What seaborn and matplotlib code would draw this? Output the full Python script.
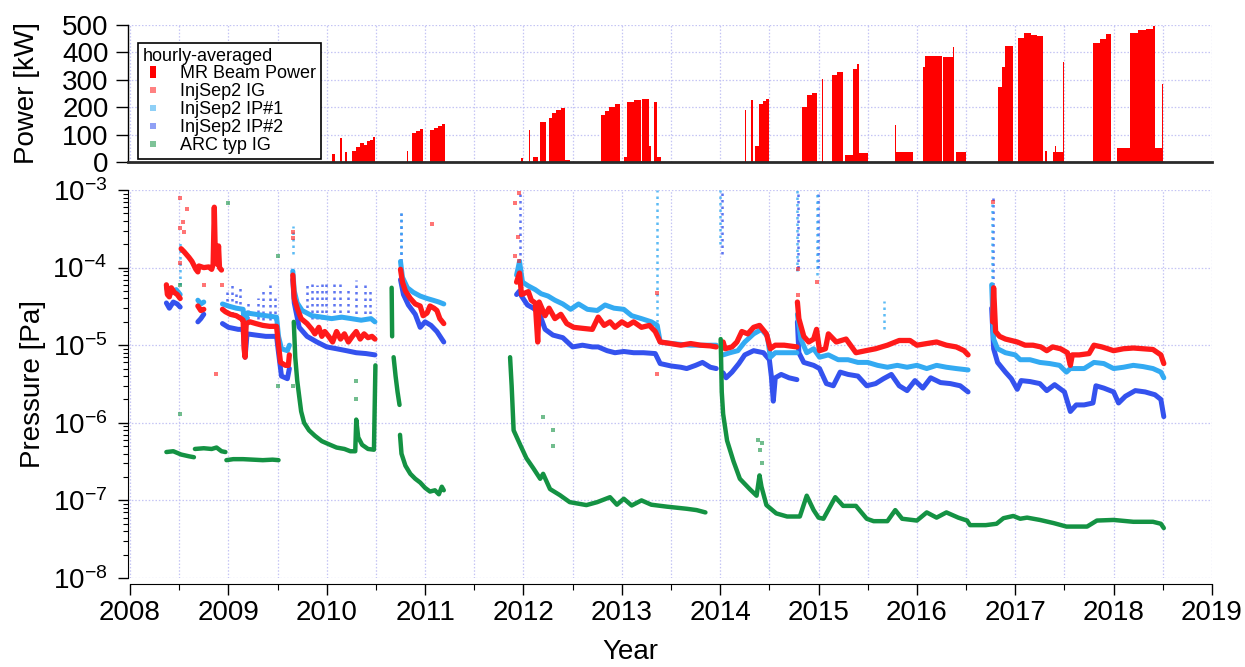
import numpy as np
import pandas as pd
import matplotlib
matplotlib.use("Agg")
import matplotlib.pyplot as plt
import seaborn as sns
from matplotlib.lines import Line2D
from matplotlib.ticker import MultipleLocator, FixedLocator, NullFormatter, LogLocator

# ---------------------------------------------------------------- data
POWER_YEAR = [2010.05, 2010.08, 2010.14, 2010.155, 2010.19, 2010.21, 2010.26, 2010.30, 2010.34, 2010.38,
              2010.41, 2010.44, 2010.47, 2010.49,
              2010.82, 2010.83, 2010.87, 2010.91, 2010.95, 2010.98, 2011.05, 2011.09, 2011.13, 2011.17, 2011.20,
              2011.98, 2012.00, 2012.06, 2012.07, 2012.10, 2012.15, 2012.17, 2012.23, 2012.26, 2012.29,
              2012.33, 2012.38, 2012.42, 2012.47,
              2012.79, 2012.83, 2012.87, 2012.93, 2012.985, 2013.02, 2013.05, 2013.12, 2013.20, 2013.21,
              2013.28, 2013.30, 2013.33, 2013.36, 2013.40,
              2014.25, 2014.26, 2014.31, 2014.33, 2014.35, 2014.39, 2014.44, 2014.47, 2014.50,
              2014.83, 2014.88, 2014.93, 2014.98, 2015.04, 2015.05, 2015.14, 2015.19, 2015.25, 2015.27,
              2015.35, 2015.39, 2015.41, 2015.50, 2015.505,
              2015.78, 2015.79, 2015.96, 2016.06, 2016.08, 2016.25, 2016.27, 2016.37, 2016.38, 2016.40, 2016.50,
              2016.82, 2016.86, 2016.90, 2016.98, 2017.03, 2017.09, 2017.16, 2017.22, 2017.28, 2017.30,
              2017.32, 2017.38, 2017.40, 2017.41, 2017.49, 2017.50,
              2017.79, 2017.86, 2017.92, 2017.97, 2018.03, 2018.17, 2018.25, 2018.33, 2018.40, 2018.42,
              2018.49, 2018.50]
POWER_KW = [30, 0, 86, 0, 35, 0, 40, 55, 70, 62,
            75, 80, 92, 0,
            40, 0, 105, 112, 120, 0, 117, 125, 130, 140, 0,
            15, 0, 117, 0, 20, 0, 147, 0, 160, 178,
            190, 197, 8, 0,
            170, 185, 200, 212, 0, 20, 219, 228, 5, 229,
            60, 0, 219, 20, 0,
            190, 0, 225, 0, 60, 213, 222, 231, 0,
            200, 243, 252, 0, 304, 0, 316, 328, 0, 26,
            340, 358, 33, 376, 0,
            135, 38, 0, 346, 388, 0, 384, 418, 0, 38, 0,
            273, 346, 424, 0, 454, 472, 465, 460, 0, 40,
            0, 38, 57, 38, 364, 0,
            436, 448, 466, 0, 50, 472, 480, 484, 496, 50,
            286, 0]

# InjSep2 IG (red) : segments of (years, Pa)
IG_SEGMENTS = [
    ([2008.37, 2008.38, 2008.40, 2008.42, 2008.45, 2008.48, 2008.51],
     [6.0e-5, 4.5e-5, 4.2e-5, 5.5e-5, 4.8e-5, 4.5e-5, 4.0e-5]),
    ([2008.52, 2008.55, 2008.60, 2008.63, 2008.67, 2008.69, 2008.70, 2008.75, 2008.80, 2008.83, 2008.845,
      2008.857, 2008.865, 2008.875, 2008.89, 2008.90, 2008.91, 2008.93],
     [1.75e-4, 1.6e-4, 1.35e-4, 1.2e-4, 9.5e-5, 8.8e-5, 1.05e-4, 1.0e-4, 1.02e-4, 9.5e-5, 1.1e-4,
      6.0e-4, 2.0e-4, 1.2e-4, 1.1e-4, 1.9e-4, 1.0e-4, 9.3e-5]),
    ([2008.69, 2008.72, 2008.75], [3.2e-5, 2.8e-5, 2.9e-5]),
    ([2008.94, 2008.97, 2009.02, 2009.08, 2009.13, 2009.15, 2009.16, 2009.17, 2009.18, 2009.22, 2009.28,
      2009.35, 2009.42, 2009.49, 2009.51, 2009.53, 2009.58, 2009.61, 2009.62],
     [2.9e-5, 2.7e-5, 2.5e-5, 2.4e-5, 2.2e-5, 2.1e-5, 9e-6, 7e-6, 1.9e-5, 2.0e-5, 1.9e-5,
      1.8e-5, 1.75e-5, 1.75e-5, 1.0e-5, 6.0e-6, 5.5e-6, 5.5e-6, 7.5e-6]),
    ([2009.655, 2009.67, 2009.70, 2009.74, 2009.80, 2009.85, 2009.88, 2009.92, 2009.95, 2009.98, 2010.02,
      2010.06, 2010.10, 2010.14, 2010.18, 2010.22, 2010.26, 2010.30, 2010.34, 2010.38, 2010.42, 2010.46,
      2010.49],
     [8.0e-5, 4.0e-5, 3.0e-5, 2.2e-5, 1.9e-5, 1.6e-5, 1.4e-5, 1.7e-5, 1.3e-5, 1.5e-5, 1.3e-5,
      1.1e-5, 1.5e-5, 1.2e-5, 1.4e-5, 1.1e-5, 1.3e-5, 1.5e-5, 1.2e-5, 1.4e-5, 1.25e-5, 1.3e-5,
      1.2e-5]),
    ([2010.75, 2010.77, 2010.80, 2010.85, 2010.90, 2010.95, 2010.98, 2011.02, 2011.05, 2011.09, 2011.12,
      2011.15, 2011.19],
     [9.5e-5, 6.5e-5, 5.0e-5, 4.0e-5, 3.4e-5, 3.2e-5, 2.4e-5, 2.6e-5, 3.2e-5, 3.0e-5, 2.8e-5,
      2.2e-5, 1.9e-5]),
    ([2011.93, 2011.96, 2011.98, 2012.05, 2012.08, 2012.12, 2012.145, 2012.16, 2012.22, 2012.26, 2012.32,
      2012.38, 2012.44, 2012.51, 2012.60, 2012.70, 2012.76, 2012.82, 2012.88, 2012.93, 2013.00, 2013.06,
      2013.12, 2013.20, 2013.28, 2013.34, 2013.39, 2013.50, 2013.60, 2013.70, 2013.80, 2013.90, 2013.96],
     [6.5e-5, 8.5e-5, 4.5e-5, 4.9e-5, 3.8e-5, 3.5e-5, 1.1e-5, 3.6e-5, 2.4e-5, 3.0e-5, 2.2e-5,
      2.5e-5, 1.9e-5, 1.7e-5, 1.65e-5, 1.6e-5, 2.3e-5, 1.8e-5, 2.0e-5, 1.7e-5, 2.0e-5, 1.8e-5,
      2.0e-5, 1.7e-5, 1.8e-5, 1.5e-5, 1.1e-5, 1.05e-5, 1.0e-5, 1.05e-5, 1.0e-5, 9.8e-6, 9.5e-6]),
    ([2014.03, 2014.05, 2014.12, 2014.17, 2014.22, 2014.28, 2014.34, 2014.40, 2014.47, 2014.51, 2014.56,
      2014.65, 2014.78],
     [1.1e-5, 9.0e-6, 9.5e-6, 1.1e-5, 1.5e-5, 1.4e-5, 1.7e-5, 1.8e-5, 1.4e-5, 9.0e-6, 1.0e-5,
      1.0e-5, 9.5e-6]),
    ([2014.785, 2014.80, 2014.85, 2014.90, 2014.95, 2014.98, 2015.01, 2015.07, 2015.10, 2015.18, 2015.28,
      2015.38, 2015.48, 2015.58, 2015.70, 2015.82, 2015.93, 2016.00, 2016.10, 2016.20, 2016.30, 2016.40,
      2016.48, 2016.52],
     [3.6e-5, 2.2e-5, 1.3e-5, 1.1e-5, 1.2e-5, 1.6e-5, 8.5e-6, 9e-6, 1.4e-5, 1.1e-5, 1.2e-5,
      8e-6, 8.5e-6, 9e-6, 1.0e-5, 1.15e-5, 1.15e-5, 1.0e-5, 1.05e-5, 1.1e-5, 1.0e-5, 9.5e-6,
      8.5e-6, 7.5e-6]),
    ([2016.77, 2016.78, 2016.80, 2016.84, 2016.90, 2016.96, 2017.02, 2017.10, 2017.18, 2017.26, 2017.32,
      2017.38, 2017.46, 2017.53, 2017.56, 2017.58, 2017.65, 2017.75, 2017.80, 2017.88, 2017.94, 2018.00,
      2018.10, 2018.20, 2018.30, 2018.40, 2018.48, 2018.51],
     [2.0e-5, 5.5e-5, 1.5e-5, 1.3e-5, 1.2e-5, 1.15e-5, 1.1e-5, 1.0e-5, 1.0e-5, 9.5e-6, 8.5e-6,
      9.5e-6, 9.0e-6, 8.0e-6, 5.5e-6, 7.5e-6, 7.5e-6, 7.8e-6, 1.0e-5, 9.5e-6, 9.0e-6, 8.5e-6,
      9.0e-6, 9.2e-6, 9.0e-6, 8.8e-6, 7.5e-6, 5.8e-6]),
]

# InjSep2 IP#1 (light blue)
IP1_SEGMENTS = [
    ([2008.37, 2008.40, 2008.43, 2008.47, 2008.51], [5.5e-5, 4.5e-5, 4.8e-5, 5.2e-5, 4.5e-5]),
    ([2008.69, 2008.72, 2008.75], [3.8e-5, 3.4e-5, 3.6e-5]),
    ([2008.94, 2009.00, 2009.08, 2009.15, 2009.17, 2009.19, 2009.28, 2009.38, 2009.49, 2009.51, 2009.54,
      2009.60, 2009.62],
     [3.4e-5, 3.2e-5, 3.0e-5, 2.9e-5, 1.3e-5, 2.6e-5, 2.5e-5, 2.4e-5, 2.3e-5, 1.3e-5, 9.0e-6,
      8.5e-6, 1.0e-5]),
    ([2009.655, 2009.67, 2009.70, 2009.75, 2009.85, 2009.95, 2010.05, 2010.15, 2010.25, 2010.35, 2010.45,
      2010.49],
     [9e-5, 5e-5, 3.5e-5, 2.8e-5, 2.4e-5, 2.3e-5, 2.2e-5, 2.3e-5, 2.2e-5, 2.1e-5, 2.2e-5, 2.0e-5]),
    ([2010.75, 2010.77, 2010.82, 2010.88, 2010.95, 2011.02, 2011.08, 2011.14, 2011.19],
     [1.2e-4, 7.5e-5, 5.5e-5, 4.8e-5, 4.3e-5, 4.0e-5, 3.8e-5, 3.6e-5, 3.4e-5]),
    ([2011.93, 2011.96, 2011.99, 2012.05, 2012.12, 2012.18, 2012.25, 2012.32, 2012.40, 2012.48, 2012.56,
      2012.65, 2012.75, 2012.83, 2012.92, 2013.02, 2013.10, 2013.20, 2013.30, 2013.36, 2013.39, 2013.50,
      2013.70, 2013.96],
     [8e-5, 1.2e-4, 6.5e-5, 5.8e-5, 5.2e-5, 4.6e-5, 4.3e-5, 3.8e-5, 3.4e-5, 2.9e-5, 3.4e-5,
      2.9e-5, 2.8e-5, 3.3e-5, 3.0e-5, 2.9e-5, 2.4e-5, 2.2e-5, 2.0e-5, 1.8e-5, 1.1e-5, 1.05e-5,
      1.0e-5, 1.0e-5]),
    ([2014.03, 2014.10, 2014.18, 2014.25, 2014.34, 2014.42, 2014.48, 2014.51, 2014.56, 2014.65, 2014.78],
     [7.5e-6, 8e-6, 8.5e-6, 1.1e-5, 1.4e-5, 1.6e-5, 1.3e-5, 7e-6, 8e-6, 8e-6, 8e-6]),
    ([2014.785, 2014.82, 2014.88, 2014.95, 2015.01, 2015.10, 2015.20, 2015.30, 2015.40, 2015.50, 2015.60,
      2015.70, 2015.80, 2015.90, 2016.00, 2016.10, 2016.20, 2016.30, 2016.40, 2016.52],
     [2.5e-5, 1.2e-5, 8e-6, 9e-6, 7e-6, 7.5e-6, 6.5e-6, 6.5e-6, 6.0e-6, 6.0e-6, 5.5e-6,
      5.2e-6, 5.5e-6, 5.2e-6, 5.5e-6, 5.0e-6, 5.5e-6, 5.2e-6, 5.0e-6, 4.8e-6]),
    ([2016.76, 2016.78, 2016.82, 2016.90, 2017.00, 2017.05, 2017.15, 2017.25, 2017.35, 2017.45, 2017.52,
      2017.56, 2017.70, 2017.80, 2017.90, 2018.00, 2018.10, 2018.20, 2018.30, 2018.40, 2018.48, 2018.51],
     [6e-5, 1.2e-5, 9e-6, 8e-6, 7.5e-6, 6.5e-6, 6.5e-6, 6.0e-6, 5.8e-6, 5.5e-6, 4.5e-6,
      5.0e-6, 5.0e-6, 6.0e-6, 5.8e-6, 5.0e-6, 5.2e-6, 5.5e-6, 5.3e-6, 5.0e-6, 4.5e-6, 3.8e-6]),
]

# InjSep2 IP#2 (blue)
IP2_SEGMENTS = [
    ([2008.37, 2008.40, 2008.44, 2008.48, 2008.51], [3.5e-5, 3.0e-5, 3.6e-5, 3.4e-5, 3.1e-5]),
    ([2008.69, 2008.72, 2008.75], [2.0e-5, 2.2e-5, 2.5e-5]),
    ([2008.94, 2009.00, 2009.10, 2009.15, 2009.17, 2009.19, 2009.28, 2009.38, 2009.49, 2009.51, 2009.54,
      2009.60, 2009.62],
     [1.9e-5, 1.7e-5, 1.6e-5, 1.6e-5, 7e-6, 1.4e-5, 1.35e-5, 1.3e-5, 1.3e-5, 8e-6, 4e-6,
      3.7e-6, 5e-6]),
    ([2009.655, 2009.67, 2009.72, 2009.80, 2009.90, 2010.00, 2010.10, 2010.20, 2010.30, 2010.40, 2010.49],
     [7e-5, 3.5e-5, 1.7e-5, 1.3e-5, 1.1e-5, 9.5e-6, 9e-6, 8.5e-6, 8.0e-6, 7.8e-6, 7.5e-6]),
    ([2010.75, 2010.78, 2010.83, 2010.90, 2010.95, 2011.00, 2011.06, 2011.12, 2011.17, 2011.19],
     [7e-5, 4.5e-5, 3.3e-5, 2.5e-5, 1.7e-5, 2.0e-5, 1.8e-5, 1.5e-5, 1.2e-5, 1.1e-5]),
    ([2011.93, 2011.96, 2011.98, 2012.04, 2012.10, 2012.16, 2012.22, 2012.30, 2012.40, 2012.50, 2012.60,
      2012.70, 2012.76, 2012.85, 2012.93, 2013.02, 2013.12, 2013.22, 2013.34, 2013.39, 2013.50, 2013.60,
      2013.66, 2013.75, 2013.82, 2013.90, 2013.96],
     [4.5e-5, 5.0e-5, 4.3e-5, 3.3e-5, 3.0e-5, 2.6e-5, 1.6e-5, 1.35e-5, 1.25e-5, 9.5e-6, 1.0e-5,
      9.5e-6, 9.5e-6, 8.5e-6, 8.0e-6, 8.3e-6, 8.0e-6, 8.0e-6, 7.8e-6, 5.8e-6, 5.4e-6, 5.2e-6,
      5.0e-6, 5.5e-6, 6.0e-6, 5.2e-6, 5.0e-6]),
    ([2014.03, 2014.06, 2014.12, 2014.19, 2014.25, 2014.34, 2014.44, 2014.50, 2014.52, 2014.54, 2014.56,
      2014.62, 2014.70, 2014.78],
     [4.4e-6, 3.8e-6, 4.5e-6, 5.8e-6, 7.5e-6, 8.5e-6, 8.0e-6, 6.5e-6, 4.0e-6, 1.9e-6, 3.8e-6,
      4.2e-6, 3.8e-6, 3.6e-6]),
    ([2014.785, 2014.80, 2014.85, 2014.95, 2015.01, 2015.08, 2015.15, 2015.22, 2015.30, 2015.40, 2015.49,
      2015.58, 2015.66, 2015.74, 2015.82, 2015.90, 2015.98, 2016.06, 2016.14, 2016.24, 2016.34, 2016.44,
      2016.52],
     [2e-5, 8e-6, 6e-6, 5.5e-6, 5e-6, 3.2e-6, 3.0e-6, 4.5e-6, 4.2e-6, 4.0e-6, 3.0e-6,
      3.2e-6, 3.7e-6, 4.2e-6, 3.0e-6, 2.6e-6, 3.5e-6, 2.8e-6, 3.8e-6, 3.3e-6, 3.2e-6, 3.0e-6,
      2.5e-6]),
    ([2016.76, 2016.78, 2016.82, 2016.90, 2016.96, 2017.02, 2017.06, 2017.15, 2017.25, 2017.32, 2017.40,
      2017.50, 2017.56, 2017.62, 2017.70, 2017.79, 2017.82, 2017.90, 2018.00, 2018.05, 2018.12, 2018.22,
      2018.32, 2018.42, 2018.48, 2018.51],
     [3e-5, 9e-6, 6e-6, 4.5e-6, 3.7e-6, 2.7e-6, 3.5e-6, 3.4e-6, 3.2e-6, 2.6e-6, 3.1e-6,
      2.5e-6, 1.4e-6, 1.7e-6, 1.7e-6, 1.8e-6, 3.0e-6, 2.8e-6, 2.5e-6, 1.8e-6, 2.2e-6, 2.6e-6,
      2.5e-6, 2.3e-6, 2.0e-6, 1.2e-6]),
]

# ARC typ IG (green)
ARC_SEGMENTS = [
    ([2008.37, 2008.44, 2008.52, 2008.60, 2008.65], [4.2e-7, 4.3e-7, 3.9e-7, 3.7e-7, 3.6e-7]),
    ([2008.66, 2008.75, 2008.83, 2008.88, 2008.93, 2008.97], [4.6e-7, 4.7e-7, 4.6e-7, 4.8e-7, 4.3e-7, 4.2e-7]),
    ([2008.98, 2009.05, 2009.15, 2009.25, 2009.35, 2009.45, 2009.51],
     [3.3e-7, 3.4e-7, 3.4e-7, 3.35e-7, 3.3e-7, 3.35e-7, 3.3e-7]),
    ([2009.665, 2009.68, 2009.70, 2009.72, 2009.74, 2009.77, 2009.82, 2009.88, 2009.95, 2010.02, 2010.10,
      2010.18, 2010.24, 2010.29, 2010.30, 2010.32, 2010.36, 2010.42, 2010.48, 2010.495],
     [2.0e-5, 7e-6, 3.5e-6, 2.2e-6, 1.4e-6, 1.0e-6, 8e-7, 6.8e-7, 5.8e-7, 5.3e-7, 4.8e-7,
      4.6e-7, 4.3e-7, 4.3e-7, 1.1e-6, 6.5e-7, 5.2e-7, 4.6e-7, 4.5e-7, 5.5e-6]),
    ([2010.66, 2010.665], [5.5e-5, 1.3e-5]),
    ([2010.68, 2010.70, 2010.72, 2010.74], [7e-6, 4e-6, 2.5e-6, 1.7e-6]),
    ([2010.745, 2010.76, 2010.80, 2010.85, 2010.90, 2010.95, 2011.00, 2011.05, 2011.10, 2011.14, 2011.17,
      2011.19],
     [7e-7, 4e-7, 2.8e-7, 2.2e-7, 1.9e-7, 1.7e-7, 1.45e-7, 1.3e-7, 1.35e-7, 1.2e-7, 1.5e-7, 1.35e-7]),
    ([2011.864, 2011.88, 2011.90, 2011.97, 2012.03, 2012.10, 2012.17, 2012.20, 2012.27, 2012.37, 2012.47,
      2012.64, 2012.75, 2012.88, 2012.95, 2013.02, 2013.10, 2013.20, 2013.30, 2013.46, 2013.66, 2013.76,
      2013.85],
     [7e-6, 3e-6, 8e-7, 5.1e-7, 3.5e-7, 2.6e-7, 1.9e-7, 2.2e-7, 1.4e-7, 1.17e-7, 9.5e-8,
      8.7e-8, 9.5e-8, 1.1e-7, 8.8e-8, 1.05e-7, 8.6e-8, 1.0e-7, 8.8e-8, 8.3e-8, 7.8e-8, 7.5e-8,
      7.0e-8]),
    ([2014.005, 2014.016, 2014.03, 2014.07, 2014.135, 2014.20, 2014.30, 2014.37, 2014.40, 2014.42, 2014.47,
      2014.57, 2014.68, 2014.81, 2014.88, 2014.95, 2015.00, 2015.05, 2015.17, 2015.25, 2015.38, 2015.49,
      2015.56, 2015.70, 2015.78, 2015.85, 2016.00, 2016.10, 2016.20, 2016.30, 2016.42, 2016.51, 2016.54,
      2016.70, 2016.81, 2016.88, 2016.98, 2017.05, 2017.12, 2017.25, 2017.39, 2017.52, 2017.73, 2017.83,
      2018.00, 2018.20, 2018.40, 2018.48, 2018.51],
     [1.2e-5, 2.5e-6, 1.3e-6, 5.9e-7, 3.2e-7, 1.9e-7, 1.4e-7, 1.15e-7, 2.1e-7, 1.5e-7, 8.7e-8,
      6.8e-8, 6.2e-8, 6.2e-8, 1.15e-7, 7.5e-8, 6.0e-8, 5.8e-8, 1.1e-7, 8.5e-8, 8.5e-8, 5.8e-8,
      5.4e-8, 5.4e-8, 7.5e-8, 5.8e-8, 5.5e-8, 7.0e-8, 6.0e-8, 7.0e-8, 6.0e-8, 5.5e-8, 4.8e-8,
      4.8e-8, 5.0e-8, 5.9e-8, 6.3e-8, 5.8e-8, 6.0e-8, 5.6e-8, 5.1e-8, 4.6e-8, 4.6e-8, 5.5e-8,
      5.6e-8, 5.3e-8, 5.3e-8, 5.0e-8, 4.4e-8]),
]

# isolated readings (year, Pa)
IG_OUT_YEAR = [2008.51, 2008.51, 2008.54, 2008.55, 2008.58, 2008.51, 2008.75, 2008.87, 2008.94, 2009.66, 2009.66,
               2011.07, 2011.95, 2011.91, 2011.94, 2011.91, 2011.95, 2013.36, 2013.36, 2014.79, 2014.79,
               2014.98, 2016.77, 2016.78]
IG_OUT_PA = [7.8e-4, 3.2e-4, 3.9e-4, 2.9e-4, 5.7e-4, 1.15e-4, 6e-5, 4.2e-6, 6e-5, 2.9e-4, 2.4e-4,
             3.6e-4, 9.1e-4, 6.8e-4, 2.5e-4, 1.4e-4, 1.2e-4, 4.7e-5, 4.2e-6, 9.5e-5, 4.5e-5,
             6.5e-5, 7e-4, 5e-5]
ARC_OUT_YEAR = [2009.00, 2009.50, 2009.50, 2008.51, 2008.51, 2009.66, 2010.30, 2010.30, 2014.38, 2014.40,
                2014.43, 2014.43, 2012.20, 2012.30, 2012.30]
ARC_OUT_PA = [6.8e-4, 1.4e-4, 3e-6, 1.3e-6, 6e-5, 3e-6, 3.5e-6, 2e-6, 6e-7, 4.5e-7,
              5.5e-7, 3e-7, 1.2e-6, 5e-7, 8e-7]

# columns of scattered readings: (year, low Pa, high Pa)
IP1_COL_YEAR = [2008.51, 2009.66, 2010.75, 2013.36, 2014.00, 2014.78, 2014.98, 2015.67, 2016.76]
IP1_COL_LO = [6e-5, 1.5e-4, 1.5e-4, 2.0e-5, 2.0e-4, 9e-5, 8e-5, 1.6e-5, 5e-5]
IP1_COL_HI = [2.2e-4, 3.4e-4, 5e-4, 1.0e-3, 1.0e-3, 1.0e-3, 1.0e-3, 3.7e-5, 7e-4]
IP2_COL_YEAR = [2008.99, 2009.04, 2009.08, 2009.12, 2009.20, 2009.30, 2009.35, 2009.42, 2009.47,
                2009.80, 2009.85, 2009.90, 2009.95, 2009.99, 2010.07, 2010.14, 2010.22, 2010.30, 2010.39,
                2010.44, 2010.75, 2011.96, 2014.02, 2014.79, 2014.99, 2016.77]
IP2_COL_LO = [2.5e-5, 2.5e-5, 2.4e-5, 2.3e-5, 2.2e-5, 2.2e-5, 2.1e-5, 2.1e-5, 2.1e-5,
              2.5e-5, 2.2e-5, 2.2e-5, 2.2e-5, 2.2e-5, 2.2e-5, 2.2e-5, 2.2e-5, 2.1e-5, 2.1e-5,
              2.1e-5, 1.2e-4, 1.0e-4, 1.5e-4, 1e-4, 1e-4, 6e-5]
IP2_COL_HI = [5.5e-5, 6.5e-5, 5.0e-5, 6.0e-5, 3.5e-5, 4.0e-5, 5.0e-5, 6.5e-5, 4.5e-5,
              6e-5, 6.5e-5, 6e-5, 7e-5, 6.5e-5, 7e-5, 6.5e-5, 5.5e-5, 7e-5, 6.5e-5,
              5.5e-5, 5e-4, 1.0e-3, 1.0e-3, 1.0e-3, 1.0e-3, 9e-4]

YEAR_TICKS = list(range(2008, 2020))
POWER_TICKS = [0, 100, 200, 300, 400, 500]
PRESSURE_TICKS = [1e-8, 1e-7, 1e-6, 1e-5, 1e-4, 1e-3]
PRESSURE_LABELS = [r"$\mathregular{10^{-8}}$", r"$\mathregular{10^{-7}}$", r"$\mathregular{10^{-6}}$",
                   r"$\mathregular{10^{-5}}$", r"$\mathregular{10^{-4}}$", r"$\mathregular{10^{-3}}$"]
LEGEND_TITLE = "hourly-averaged"
SERIES_NAMES = ["MR Beam Power", "InjSep2 IG", "InjSep2 IP#1", "InjSep2 IP#2", "ARC typ IG"]

# ---------------------------------------------------------------- style
sns.set_style("white")
plt.rcParams['font.family'] = ['Liberation Sans', 'DejaVu Sans']
plt.rcParams['mathtext.fontset'] = 'custom'
plt.rcParams['mathtext.rm'] = 'Liberation Sans'
plt.rcParams['mathtext.it'] = 'Liberation Sans:italic'
plt.rcParams['mathtext.bf'] = 'Liberation Sans:bold'
for k in ['text.color', 'axes.labelcolor', 'xtick.color', 'ytick.color', 'axes.edgecolor']:
    plt.rcParams[k] = 'black'

C_POWER = "#ff0000"
C_IG = "#ff1a1a"
C_IP1 = "#33aaf2"
C_IP2 = "#3452ee"
C_ARC = "#149243"
GRID_C = "#c4c4f4"
W, H = 1245, 667

fig = plt.figure(figsize=(W / 100, H / 100), dpi=100)
L, R = 128, 1212
ax_top = fig.add_axes([L / W, 1 - 162 / H, (R - L) / W, (162 - 25) / H])
ax = fig.add_axes([L / W, 1 - 578 / H, (R - L) / W, (578 - 190) / H])
XLIM = (2008 - 2 / 98.35, 2019.0)

grid_kw = dict(color=GRID_C, linestyle=(0, (1.2, 1.5)), linewidth=0.9)

# ---- top: beam power
ax_top.fill_between(POWER_YEAR, 0, POWER_KW, step='post', color=C_POWER, linewidth=0, zorder=3)
ax_top.set_xlim(*XLIM)
ax_top.set_ylim(0, 500)
ax_top.yaxis.set_major_locator(FixedLocator(POWER_TICKS))
ax_top.xaxis.set_major_locator(MultipleLocator(1))
ax_top.xaxis.set_minor_locator(MultipleLocator(0.5))
ax_top.grid(True, axis='y', which='major', **grid_kw)
ax_top.grid(True, axis='x', which='both', **grid_kw)
ax_top.set_axisbelow(True)
for s in ['top', 'right']:
    ax_top.spines[s].set_visible(False)
ax_top.spines['left'].set_linewidth(1.0)
ax_top.spines['bottom'].set_color('#2a2a2a')
ax_top.spines['bottom'].set_linewidth(2.0)
ax_top.spines['bottom'].set_zorder(5)
ax_top.tick_params(axis='x', which='both', length=0, bottom=False, labelbottom=False)
ax_top.tick_params(axis='y', which='major', left=True, direction='out', length=9, width=1.0, pad=5,
                   labelsize=20)
ax_top.set_ylabel("Power [kW]", fontsize=20)
ax_top.yaxis.set_label_coords((40 - L) / (R - L), 0.5)

# ---- bottom: pressures
ax.set_yscale('log')
ax.set_xlim(*XLIM)
ax.set_ylim(1e-8, 1e-3)

rows = []
for name, segs in [("IP2", IP2_SEGMENTS), ("IP1", IP1_SEGMENTS), ("IG", IG_SEGMENTS), ("ARC", ARC_SEGMENTS)]:
    for k, (t, p) in enumerate(segs):
        for ti, pi in zip(t, p):
            rows.append((name, f"{name}{k}", ti, pi))
df = pd.DataFrame(rows, columns=["series", "seg", "year", "pa"])

col_kw = dict(linestyles=(0, (1, 1.6)), linewidth=1.8, alpha=0.8, zorder=2)
ax.vlines(IP2_COL_YEAR, IP2_COL_LO, IP2_COL_HI, colors=C_IP2, **col_kw)
ax.vlines(IP1_COL_YEAR, IP1_COL_LO, IP1_COL_HI, colors=C_IP1, **col_kw)

for name, color, lw in [("IP2", C_IP2, 3.6), ("IP1", C_IP1, 3.6), ("IG", C_IG, 3.8), ("ARC", C_ARC, 3.2)]:
    sub = df[df.series == name]
    sns.lineplot(data=sub, x="year", y="pa", units="seg", estimator=None, sort=False,
                 color=color, linewidth=lw, ax=ax, legend=False, zorder=3)

sns.scatterplot(x=IG_OUT_YEAR, y=IG_OUT_PA, color=C_IG, marker='s', s=7, linewidth=0, alpha=0.6, ax=ax,
                zorder=4)
sns.scatterplot(x=ARC_OUT_YEAR, y=ARC_OUT_PA, color=C_ARC, marker='s', s=7, linewidth=0, alpha=0.6, ax=ax,
                zorder=4)

ax.set_xlabel("")
ax.set_ylabel("Pressure [Pa]", fontsize=20)
ax.yaxis.set_label_coords((46 - L) / (R - L), 0.5)

ax.yaxis.set_major_locator(FixedLocator(PRESSURE_TICKS))
ax.set_yticklabels(PRESSURE_LABELS)
ax.yaxis.set_minor_locator(LogLocator(base=10, subs=np.arange(2, 10), numticks=20))
ax.yaxis.set_minor_formatter(NullFormatter())
ax.xaxis.set_major_locator(FixedLocator(YEAR_TICKS))
ax.set_xticklabels([str(y) for y in YEAR_TICKS])
ax.xaxis.set_minor_locator(MultipleLocator(0.5))
ax.grid(True, axis='y', which='major', **grid_kw)
ax.grid(True, axis='x', which='both', **grid_kw)
ax.set_axisbelow(True)
for s in ['top', 'right']:
    ax.spines[s].set_visible(False)
ax.spines['bottom'].set_position(('outward', 4))
ax.spines['bottom'].set_bounds(2008, 2019)
ax.tick_params(axis='y', which='major', left=True, direction='out', length=7, width=1.0, pad=8,
               labelsize=20)
ax.tick_params(axis='y', which='minor', left=True, direction='out', length=3.5, width=0.8)
ax.tick_params(axis='x', which='major', bottom=True, direction='out', length=8, width=1.0, pad=4,
               labelsize=20)
ax.tick_params(axis='x', which='minor', bottom=True, direction='out', length=4, width=0.8)

fig.text(630 / W, 1 - 652 / H, "Year", fontsize=20, ha='center', va='center')

# ---- legend
handles = [
    Line2D([], [], linestyle='none', marker=[(-0.5, -1), (0.5, -1), (0.5, 1), (-0.5, 1), (-0.5, -1)],
           markersize=8, color=C_POWER, markeredgewidth=0),
    Line2D([], [], linestyle='none', marker='s', markersize=4.5, color=C_IG, alpha=0.55, markeredgewidth=0),
    Line2D([], [], linestyle='none', marker='s', markersize=4.5, color=C_IP1, alpha=0.55, markeredgewidth=0),
    Line2D([], [], linestyle='none', marker='s', markersize=4.5, color=C_IP2, alpha=0.55, markeredgewidth=0),
    Line2D([], [], linestyle='none', marker='s', markersize=4.5, color=C_ARC, alpha=0.55, markeredgewidth=0),
]
leg = fig.legend(handles, SERIES_NAMES, title=LEGEND_TITLE, loc='upper left',
                 bbox_to_anchor=(138 / W, 1 - 43 / H), fontsize=13, title_fontsize=13,
                 frameon=True, fancybox=False, framealpha=1, edgecolor='black',
                 handlelength=1.2, handletextpad=0.9, labelspacing=0.05, borderpad=0.25,
                 borderaxespad=0, alignment='left')
leg.get_frame().set_linewidth(1.2)

fig.savefig("out.png", dpi=100)
